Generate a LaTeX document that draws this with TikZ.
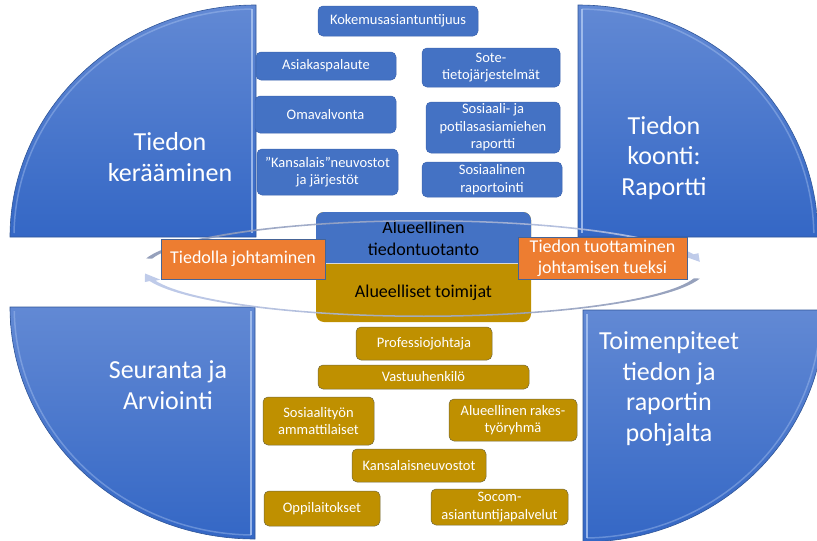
\documentclass[tikz,border=0pt]{standalone}
\usepackage{fontspec}
\setmainfont{Carlito}
\definecolor{qtop}{RGB}{98,137,212}
\definecolor{qbot}{RGB}{52,103,197}
\definecolor{qedge}{RGB}{47,85,151}
\definecolor{qhi}{RGB}{175,200,242}
\definecolor{bblue}{RGB}{68,114,196}
\definecolor{bedge}{RGB}{60,100,175}
\definecolor{olivebox}{RGB}{191,144,0}
\definecolor{oedge}{RGB}{115,105,60}
\definecolor{orbox}{RGB}{237,125,49}
\definecolor{oredge}{RGB}{70,100,150}
\definecolor{ringgrey}{RGB}{138,150,180}
\definecolor{ringlight}{RGB}{185,198,232}
\begin{document}
\begin{tikzpicture}[x=1pt,y=-1pt,
  quarter/.style={top color=qtop, bottom color=qbot, draw=qedge, line width=0.6pt},
  bevel/.style={draw=qhi, line width=2pt, opacity=0.8},
  softbevel/.style={draw=qhi, line width=1.5pt, opacity=0.4},
  qtext/.style={text=white, font=\fontsize{26}{30.5}\selectfont, align=center},
  bbox/.style={rounded corners=5pt, fill=bblue, draw=bedge, line width=0.5pt, text=white,
    font=\fontsize{14.5}{17.5}\selectfont, align=center, inner sep=0pt},
  obox/.style={rounded corners=5pt, fill=olivebox, draw=oedge, line width=0.5pt, text=white,
    font=\fontsize{14.5}{17.5}\selectfont, align=center, inner sep=0pt},
  orangebox/.style={fill=orbox, draw=oredge, line width=0.7pt, text=white,
    font=\fontsize{18}{21}\selectfont, align=center, inner sep=0pt},
  ctext/.style={text=black, font=\fontsize{18}{22.5}\selectfont, align=center}
]
\useasboundingbox (0,0) rectangle (817,541);
% quarter shapes
\path[quarter] (256,237) -- (10,237) arc[start angle=180, end angle=270, x radius=246, y radius=232] -- cycle;
\path[quarter] (578,237) -- (578,5) arc[start angle=270, end angle=360, x radius=240, y radius=232] -- cycle;
\path[quarter] (255,307) -- (10,307) arc[start angle=180, end angle=90, x radius=245, y radius=232] -- cycle;
\path[quarter] (583,310) -- (825,310) arc[start angle=0, end angle=90, x radius=242, y radius=232] -- cycle;
\draw[softbevel] (14,233) arc[start angle=181, end angle=269, x radius=242, y radius=228];
\draw[bevel] (252,9) -- (252,233);
\draw[bevel] (582,233) -- (582,9);
\draw[softbevel] (582,9) arc[start angle=271, end angle=359, x radius=236, y radius=228];
\draw[bevel] (251,311) -- (251,535);
\draw[softbevel] (251,535) arc[start angle=91, end angle=179, x radius=241, y radius=228];
\draw[bevel] (587,314) -- (587,538);
\draw[softbevel] (587,538) arc[start angle=89, end angle=1, x radius=238, y radius=228];
\node[qtext] (tl) at (170,157) {Tiedon\\kerääminen};
\node[qtext] (tr) at (664,158) {Tiedon\\koonti:\\Raportti};
\node[qtext] (bl) at (168,385) {Seuranta ja\\Arviointi};
\node[qtext] (br) at (669,389) {Toimenpiteet\\tiedon ja\\raportin\\pohjalta};
% blue boxes
\node[bbox, minimum width=160pt, minimum height=30pt] (kok) at (398,21) {Kokemusasiantuntijuus};
\node[bbox, minimum width=140pt, minimum height=28pt] (asi) at (326,66) {Asiakaspalaute};
\node[bbox, minimum width=138pt, minimum height=39pt] (sote) at (491,67.5) {Sote-\\tietojärjestelmät};
\node[bbox, minimum width=141pt, minimum height=37pt] (oma) at (325.5,114.5) {Omavalvonta};
\node[bbox, minimum width=134pt, minimum height=51pt] (sosp) at (493,127.5) {Sosiaali- ja\\potilasasiamiehen\\raportti};
\node[bbox, minimum width=141pt, minimum height=46pt] (kans) at (327.5,172) {”Kansalais”neuvostot\\ja järjestöt};
\node[bbox, minimum width=140pt, minimum height=35pt] (sosr) at (492,179.5) {Sosiaalinen\\raportointi};
% olive boxes
\node[obox, minimum width=136pt, minimum height=33pt] (prof) at (424,343.5) {Professiojohtaja};
\node[obox, minimum width=211pt, minimum height=24pt] (vast) at (423.5,377) {Vastuuhenkilö};
\node[obox, minimum width=111pt, minimum height=48pt] (styo) at (318.5,421) {Sosiaalityön\\ammattilaiset};
\node[obox, minimum width=128pt, minimum height=42pt] (rakes) at (513,420) {Alueellinen rakes-\\työryhmä};
\node[obox, minimum width=134pt, minimum height=33pt] (kneu) at (419,465.5) {Kansalaisneuvostot};
\node[obox, minimum width=116pt, minimum height=35pt] (oppi) at (322,508.5) {Oppilaitokset};
\node[obox, minimum width=137pt, minimum height=36pt] (socom) at (499.5,507) {Socom-\\asiantuntijapalvelut};
% central box
\fill[olivebox, rounded corners=8pt] (316,212) rectangle (531,322);
\fill[bblue, rounded corners=8pt] (316,212) rectangle (531,275);
\fill[olivebox] (316,263) rectangle (531,285);
\draw[white!70!gray, line width=0.6pt] (316,263) -- (531,263);
\node[ctext] (cb) at (423.5,238.5) {Alueellinen\\tiedontuotanto};
\node[ctext] (co) at (423.5,293) {Alueelliset toimijat};
% ring arrows
\path[left color=ringgrey, right color=ringlight, opacity=0.9]
  plot[domain=192:343, samples=60] ({423+283*cos(\x)},{268.5+48.5*sin(\x)})
  -- ({423+288*cos(343)},{268.5+52.5*sin(343)})
  -- ({423+279.5*cos(352)},{268.5+47.75*sin(352)})
  -- ({423+272*cos(343)},{268.5+43*sin(343)})
  -- plot[domain=343:192, samples=60] ({423+277*cos(\x)},{268.5+47*sin(\x)}) -- cycle;
\path[left color=ringlight, right color=ringgrey, opacity=0.9]
  plot[domain=12:165, samples=60] ({423+283*cos(\x)},{268.5+48.5*sin(\x)})
  -- ({423+288*cos(165)},{268.5+52.5*sin(165)})
  -- ({423+279.5*cos(174)},{268.5+47.75*sin(174)})
  -- ({423+272*cos(165)},{268.5+43*sin(165)})
  -- plot[domain=165:12, samples=60] ({423+277*cos(\x)},{268.5+47*sin(\x)}) -- cycle;
% orange boxes
\node[orangebox, minimum width=164pt, minimum height=40pt] (lead) at (243,259) {Tiedolla johtaminen};
\node[orangebox, minimum width=169pt, minimum height=42pt] (prod) at (602.5,258) {Tiedon tuottaminen\\johtamisen tueksi};
\end{tikzpicture}
\end{document}
